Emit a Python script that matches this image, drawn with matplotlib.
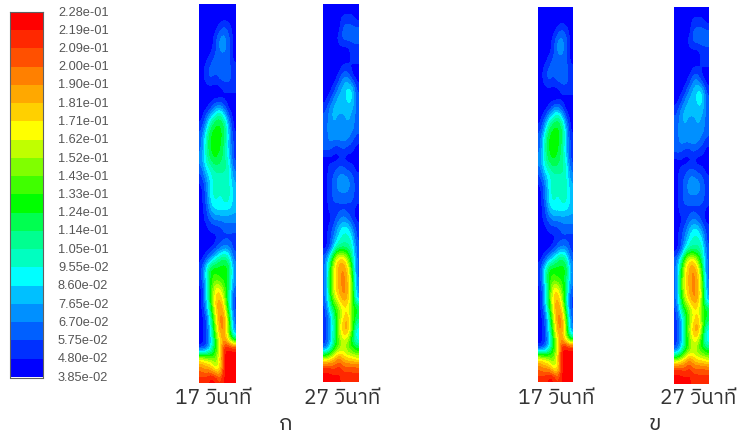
import logging

import matplotlib

matplotlib.use("Agg")
import matplotlib.pyplot as plt
import numpy as np
from matplotlib.colors import BoundaryNorm, ListedColormap

logging.getLogger("matplotlib.font_manager").setLevel(logging.ERROR)

W, H = 738, 436

tick_labels = [
    "2.28e-01", "2.19e-01", "2.09e-01", "2.00e-01", "1.90e-01", "1.81e-01", "1.71e-01",
    "1.62e-01", "1.52e-01", "1.43e-01", "1.33e-01", "1.24e-01", "1.14e-01", "1.05e-01",
    "9.55e-02", "8.60e-02", "7.65e-02", "6.70e-02", "5.75e-02", "4.80e-02", "3.85e-02",
]
# band colours, lowest band first
band_colors = [
    "#0000ff", "#0030ff", "#0060ff", "#0090ff", "#00c0ff", "#00ffff", "#00ffc0",
    "#00ff90", "#00ff50", "#00ff00", "#40ff00", "#80ff00", "#c0ff00", "#ffff00",
    "#ffd000", "#ffa800", "#ff8000", "#ff5000", "#ff2800", "#ff0000",
]
captions = ["17 วินาที", "27 วินาที", "17 วินาที", "27 วินาที"]
panel_letters = ["ก", "ข"]

# contour bands, top row first (one row about every 10 px)
bands_17 = [
    [0, 0, 0, 0, 0, 0, 0, 0],
    [0, 0, 0, 0, 0, 0, 0, 0],
    [0, 0, 0, 0, 1, 2, 1, 0],
    [0, 0, 0, 1, 3, 3, 2, 0],
    [0, 0, 0, 1, 3, 3, 2, 0],
    [0, 0, 1, 2, 2, 2, 2, 0],
    [0, 1, 2, 2, 2, 2, 2, 1],
    [0, 1, 2, 1, 2, 2, 2, 1],
    [0, 0, 0, 0, 0, 1, 1, 1],
    [0, 0, 0, 0, 0, 0, 0, 0],
    [0, 0, 1, 3, 4, 2, 0, 0],
    [0, 2, 5, 7, 8, 6, 2, 0],
    [1, 4, 8, 9, 9, 8, 4, 0],
    [2, 6, 9, 9, 9, 8, 4, 1],
    [2, 6, 9, 9, 9, 7, 4, 1],
    [3, 6, 8, 9, 8, 7, 5, 1],
    [2, 5, 6, 7, 7, 7, 6, 2],
    [1, 3, 5, 6, 6, 6, 6, 3],
    [0, 2, 5, 6, 6, 6, 6, 4],
    [0, 2, 5, 6, 5, 6, 6, 4],
    [0, 1, 4, 5, 5, 5, 5, 4],
    [0, 1, 2, 3, 3, 3, 3, 3],
    [0, 0, 1, 1, 1, 2, 2, 2],
    [0, 0, 0, 0, 1, 1, 1, 1],
    [0, 0, 0, 1, 2, 3, 3, 1],
    [0, 1, 3, 5, 7, 8, 6, 2],
    [1, 5, 9, 9, 9, 9, 9, 3],
    [1, 5, 9, 10, 9, 9, 8, 3],
    [0, 4, 9, 13, 13, 10, 8, 2],
    [0, 4, 9, 14, 15, 12, 6, 1],
    [0, 3, 8, 14, 16, 14, 7, 1],
    [0, 1, 6, 12, 16, 16, 10, 2],
    [0, 1, 5, 11, 16, 16, 11, 2],
    [0, 1, 4, 9, 14, 15, 11, 6],
    [0, 1, 4, 9, 12, 19, 19, 19],
    [13, 12, 11, 10, 14, 19, 19, 19],
    [16, 15, 15, 12, 12, 19, 19, 19],
    [18, 18, 19, 19, 17, 19, 19, 19],
]
bands_27 = [
    [0, 0, 0, 0, 0, 0, 0, 0],
    [0, 0, 0, 0, 1, 1, 1, 0],
    [0, 0, 0, 0, 2, 2, 2, 2],
    [0, 0, 0, 1, 2, 2, 2, 2],
    [0, 0, 0, 0, 0, 0, 1, 1],
    [0, 0, 0, 0, 0, 0, 1, 1],
    [0, 0, 0, 0, 1, 1, 0, 0],
    [0, 0, 0, 1, 3, 3, 1, 0],
    [0, 0, 1, 3, 4, 5, 5, 1],
    [0, 1, 3, 4, 4, 5, 5, 2],
    [1, 3, 4, 4, 4, 4, 4, 2],
    [2, 3, 4, 3, 3, 4, 3, 2],
    [2, 3, 3, 3, 3, 3, 3, 2],
    [2, 3, 3, 3, 3, 3, 2, 1],
    [2, 2, 1, 1, 2, 1, 1, 0],
    [0, 0, 0, 0, 0, 0, 0, 0],
    [0, 1, 1, 2, 2, 1, 1, 0],
    [0, 1, 2, 3, 3, 3, 2, 1],
    [0, 1, 2, 3, 3, 3, 2, 1],
    [0, 1, 2, 2, 2, 2, 2, 1],
    [0, 1, 1, 1, 1, 1, 1, 0],
    [0, 0, 1, 2, 3, 2, 1, 0],
    [0, 1, 2, 4, 5, 5, 3, 1],
    [0, 1, 3, 5, 6, 6, 5, 1],
    [0, 1, 5, 7, 7, 7, 6, 2],
    [2, 6, 11, 14, 14, 11, 7, 2],
    [2, 8, 13, 15, 16, 14, 9, 2],
    [2, 9, 13, 15, 16, 15, 10, 2],
    [2, 9, 13, 15, 16, 15, 11, 3],
    [2, 8, 12, 14, 16, 15, 11, 3],
    [1, 6, 9, 11, 13, 13, 10, 9],
    [1, 3, 7, 11, 13, 15, 10, 8],
    [1, 3, 7, 12, 15, 16, 11, 5],
    [1, 3, 7, 11, 13, 13, 8, 4],
    [1, 4, 8, 10, 12, 10, 9, 8],
    [11, 12, 14, 16, 14, 13, 13, 12],
    [18, 18, 17, 18, 17, 17, 17, 17],
    [19, 19, 19, 19, 18, 18, 18, 18],
]

TEXT_FONT = ["IBM Plex Sans Thai", "Noto Sans Thai", "FreeSerif", "Liberation Sans", "DejaVu Sans"]


def px_axes(fig, left, top, right, bottom):
    # axes placed by reference pixels, y counted from the top
    ax = fig.add_axes([left / W, 1 - bottom / H, (right - left) / W, (bottom - top) / H])
    ax.set_axis_off()
    return ax


levels = np.array([float(t) for t in tick_labels[::-1]])
cmap = ListedColormap(band_colors)
norm = BoundaryNorm(levels, len(band_colors), clip=True)
half_step = (levels[1] - levels[0]) / 2

fig = plt.figure(figsize=(W / 100, H / 100), dpi=100)
fig.patch.set_facecolor("#FFFFFF")

# colour bar
cax = px_axes(fig, 9.5, 12.5, 43, 377.5)
bar_values = (levels[:-1] + half_step)[::-1].reshape(-1, 1)
cax.imshow(bar_values, cmap=cmap, norm=norm, aspect="auto", interpolation="nearest")
cax.set_axis_on()
cax.set_xticks([])
cax.set_yticks([])
for spine in cax.spines.values():
    spine.set_color("#606060")
    spine.set_linewidth(0.8)

label_ys = np.linspace(12.5, 377.5, len(tick_labels))
for label, y in zip(tick_labels, label_ys):
    fig.text(58 / W, 1 - y / H, label, fontsize=9.2, color="#555555",
             family="Liberation Sans", va="center", ha="left")

# contour columns: 17 s and 27 s, then the same pair again for the second case
columns = [
    (bands_17, 199, 4, 236, 383),
    (bands_27, 323, 4, 359, 382),
    (bands_17, 538, 7, 573, 382),
    (bands_27, 674, 7, 709, 384),
]
for bands, left, top, right, bottom in columns:
    ax = px_axes(fig, left, top, right, bottom)
    values = levels[np.array(bands)] + half_step
    ax.imshow(values, cmap=cmap, norm=norm, aspect="auto", interpolation="bicubic",
              interpolation_stage="data")

caption_xs = [213.5, 342, 556, 698]
for caption, x in zip(captions, caption_xs):
    fig.text(x / W, 1 - 398 / H, caption, fontsize=15, color="#333333",
             family=TEXT_FONT, va="center", ha="center")
fig.text(286 / W, 1 - 424 / H, panel_letters[0], fontsize=16, color="#333333",
         family=TEXT_FONT, va="center", ha="center")
fig.text(655 / W, 1 - 424 / H, panel_letters[1], fontsize=16, color="#333333",
         family=TEXT_FONT, va="center", ha="center")

fig.savefig("out.png", dpi=100)
